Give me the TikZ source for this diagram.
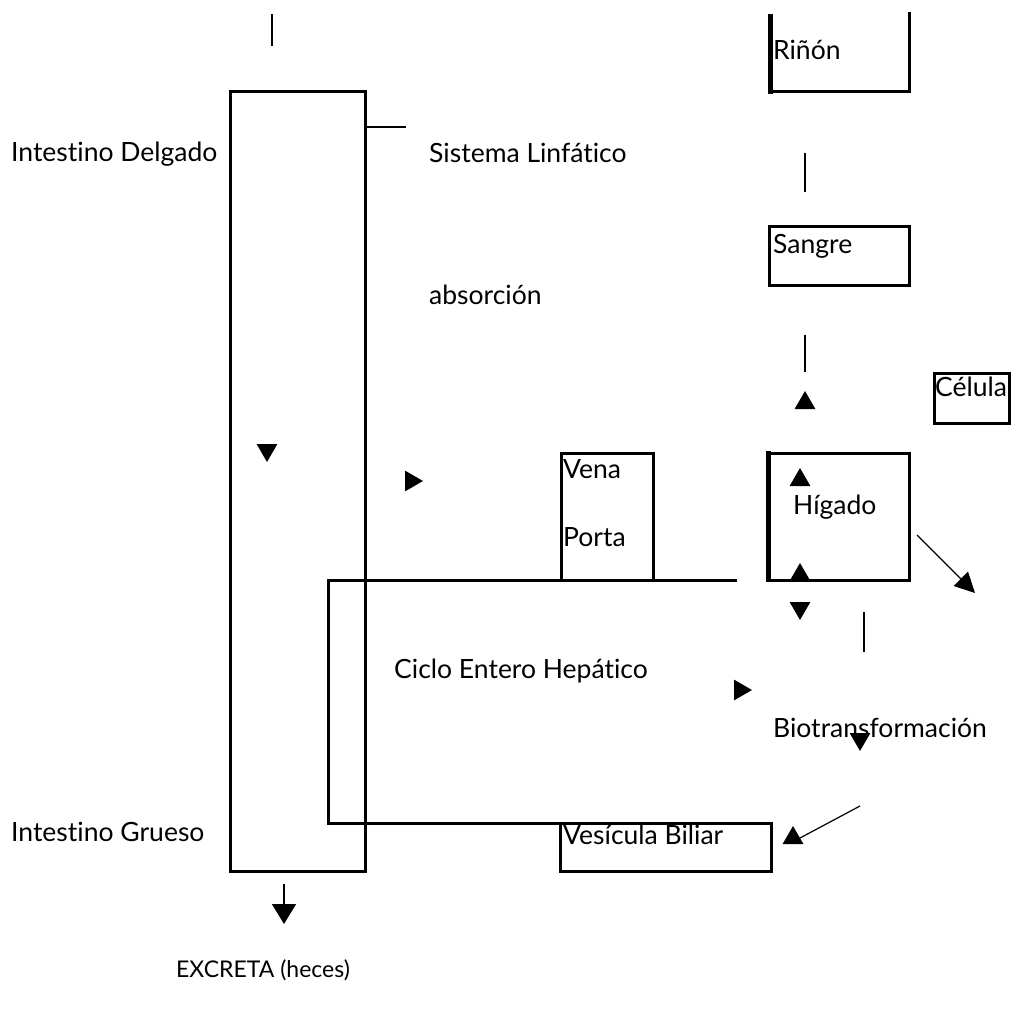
\documentclass[tikz,border=0pt]{standalone}
\usepackage{fontspec}
\setmainfont{Lato}[Ligatures={NoCommon,NoRare}]
\usetikzlibrary{shapes.geometric,arrows.meta}
\begin{document}
\begin{tikzpicture}[x=1pt,y=-1pt,
  box/.style={line width=3pt,line cap=rect},
  thick box/.style={line width=5pt},
  stub/.style={line width=2.6pt},
  lbl/.style={anchor=base west,inner sep=0pt,font=\fontsize{26.5}{30}\selectfont},
  caplbl/.style={lbl,font=\fontsize{23}{27}\selectfont},
  tri/.style={regular polygon,regular polygon sides=3,fill=black,inner sep=0pt,minimum size=24pt},
  tridown/.style={tri,shape border rotate=180},
  triright/.style={tri,shape border rotate=-90},
  arr/.style={line width=1.2pt,-{Triangle[length=20pt,width=20pt]}}]
\useasboundingbox (0,0) rectangle (1012,1011);
% Intestine (big rectangle)
\draw[box] (230,92) rectangle (365,871);
% Ciclo rectangle (open on the right)
\draw[box] (735,580) -- (328,580) -- (328,823) -- (771,823);
% Vena Porta box
\draw[box] (561,580) -- (561,453) -- (653,453) -- (653,580);
% Vesicula box
\draw[box] (560,823) -- (560,871) -- (771,871) -- (771,823);
% Rinon box (open top)
\draw[box] (909,14) -- (909,92) -- (770,92);
\draw[thick box] (770,14) -- (770,94);
% Sangre box
\draw[box] (769,227) rectangle (909,285);
% Celula box
\draw[box] (934,373) rectangle (1009,423);
% Higado box
\draw[box] (767,453) -- (909,453) -- (909,580) -- (767,580);
\draw[thick box] (768,451) -- (768,582);

% stubs
\coordinate (s1a) at (272,14); \coordinate (s1b) at (272,46);
\draw[stub] (s1a) -- (s1b);
\coordinate (lfa) at (365,127); \coordinate (lfb) at (406,127);
\draw[stub] (lfa) -- (lfb);
\coordinate (s2a) at (805,153); \coordinate (s2b) at (805,192);
\draw[stub] (s2a) -- (s2b);
\coordinate (s3a) at (805,335); \coordinate (s3b) at (805,372);
\draw[stub] (s3a) -- (s3b);
\coordinate (s4a) at (864,612); \coordinate (s4b) at (864,652);
\draw[stub] (s4a) -- (s4b);

% arrows
\coordinate (h1) at (917,535); \coordinate (h2) at (975,593);
\draw[arr] (h1) -- (h2);
\coordinate (v1) at (860,806); \coordinate (v2) at (800,838);
\draw[line width=1.2pt] (v1) -- (v2);
\coordinate (e1) at (284,884); \coordinate (e2) at (284,924);
\draw[line width=1.5pt,-{Triangle[length=20pt,width=24pt]}] (e1) -- (e2);

% triangles
\node[tri] (t1) at (805,403) {};
\node[tri] (t2) at (800,480) {};
\node[tri] (t3) at (800,575) {};
\node[tridown] (t4) at (800,608) {};
\node[tridown] (t5) at (267,450) {};
\node[triright] (t6) at (411,481) {};
\node[triright] (t7) at (740,690) {};
\node[tridown] (t8) at (860,739) {};
\node[tri] (t9) at (793,838) {};

% labels
\node[lbl] (rinon) at (773,60) {Riñón};
\node[lbl] (idel) at (11,162) {Intestino Delgado};
\node[lbl] (slin) at (429,163) {Sistema Linfático};
\node[lbl] (sangre) at (773,253) {Sangre};
\node[lbl] (abs) at (429,304) {absorción};
\node[lbl] (cel) at (935,396) {Célula};
\node[lbl] (vena) at (563,478) {Vena};
\node[lbl] (porta) at (563,546) {Porta};
\node[lbl] (hig) at (793,514) {Hígado};
\node[lbl] (ciclo) at (394,678) {Ciclo Entero Hepático};
\node[lbl] (bio) at (773,737) {Biotransformación};
\node[lbl] (igru) at (11,841) {Intestino Grueso};
\node[lbl] (ves) at (563,844) {Vesícula Biliar};
\node[caplbl] (exc) at (176,977) {EXCRETA (heces)};
\end{tikzpicture}
\end{document}
